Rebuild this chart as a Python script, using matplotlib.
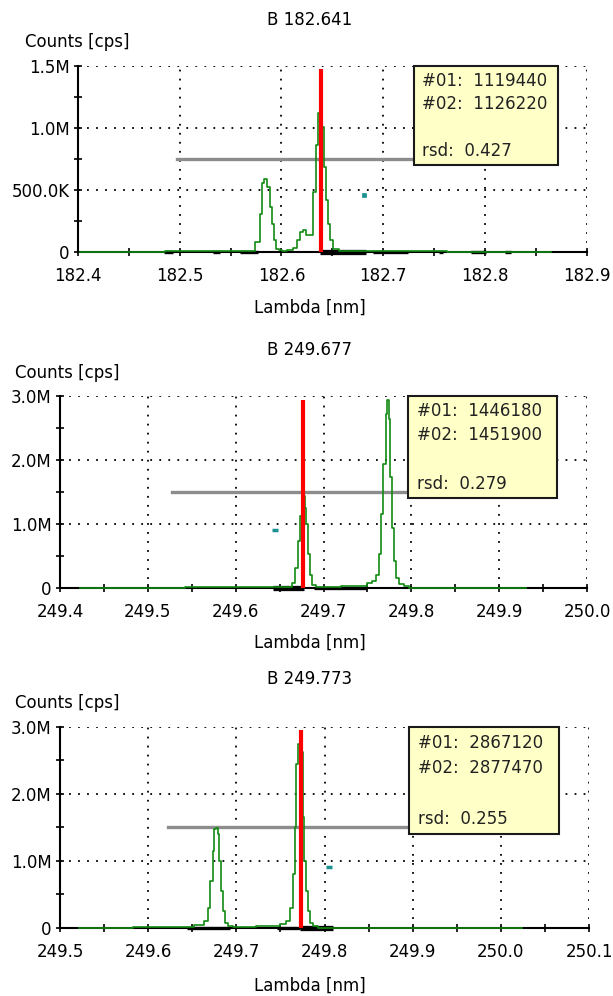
import matplotlib
matplotlib.use("Agg")
import matplotlib.pyplot as plt
from matplotlib.patches import Rectangle
from matplotlib.ticker import MultipleLocator, FixedFormatter, FixedLocator

plt.rcParams["font.family"] = ["DejaVu Sans"]

# --- panel 1 : B 182.641 ---
title1 = "B 182.641"
wl1 = [182.402, 182.570, 182.5771, 182.5804, 182.582, 182.5844, 182.587, 182.5896,
       182.5919, 182.5938, 182.5958, 182.5984, 182.602, 182.609, 182.6132, 182.6164,
       182.6197, 182.622, 182.6262, 182.6295, 182.6328, 182.635, 182.637, 182.6387,
       182.641, 182.6426, 182.6443, 182.6466, 182.6492, 182.6525, 182.660, 182.865]
cnt1 = [0, 5000, 81000, 310000, 553000, 585000, 525000, 363000,
        229000, 94000, 27000, 15000, 12000, 15000, 35000, 94000,
        162000, 175000, 135000, 140000, 485000, 862000, 1118000, 1165000,
        1010000, 687000, 418000, 229000, 94000, 27000, 5000, 0]
peak1 = 182.639
peak_top1 = 1480000
half1 = 750000
half_start1 = 182.497
window1 = (182.638, 182.683)
bg1 = [(182.485, 182.493), (182.533, 182.540), (182.559, 182.577), (182.690, 182.724),
       (182.755, 182.759), (182.786, 182.801), (182.820, 182.826)]
marker1 = (182.681, 458000)
values1 = ["#01:  1119440", "#02:  1126220", "rsd:  0.427"]
xlim1 = (182.4, 182.9)
ylim1 = 1500000
yticks1 = [0, 500000, 1000000, 1500000]
ylabels1 = ["0", "500.0K", "1.0M", "1.5M"]

# --- panel 2 : B 249.677 ---
title2 = "B 249.677"
wl2 = [249.4232, 249.662, 249.6664, 249.6695, 249.6721, 249.674, 249.6763, 249.6778,
       249.6793, 249.6809, 249.6832, 249.6854, 249.6884, 249.695, 249.7454, 249.753,
       249.7575, 249.7617, 249.7643, 249.767, 249.7692, 249.772, 249.7734, 249.775,
       249.7765, 249.7788, 249.7814, 249.784, 249.7879, 249.7947, 249.800, 249.930]
cnt2 = [0, 20000, 79000, 314000, 733000, 1126000, 1414000, 1440000,
        1257000, 995000, 524000, 210000, 50000, 10000, 27000, 79000,
        105000, 210000, 524000, 1153000, 1938000, 2720000, 2930000, 2645000,
        1728000, 942000, 419000, 157000, 63000, 27000, 0, 0]
peak2 = 249.677
peak_top2 = 2940000
half2 = 1500000
half_start2 = 249.527
window2 = (249.642, 249.678)
bg2 = [(249.689, 249.749)]
marker2 = (249.6448, 906000)
values2 = ["#01:  1446180", "#02:  1451900", "rsd:  0.279"]
xlim2 = (249.4, 250.0)
ylim2 = 3000000
yticks2 = [0, 1000000, 2000000, 3000000]
ylabels2 = ["0", "1.0M", "2.0M", "3.0M"]

# --- panel 3 : B 249.773 ---
title3 = "B 249.773"
wl3 = [249.521, 249.6437, 249.6607, 249.6664, 249.6693, 249.672, 249.6739, 249.6758,
       249.6777, 249.6796, 249.6815, 249.6834, 249.6852, 249.6883, 249.6928, 249.700,
       249.7457, 249.7533, 249.759, 249.7628, 249.7654, 249.7673, 249.7691, 249.7711,
       249.7726, 249.7741, 249.776, 249.7779, 249.7798, 249.7824, 249.7855, 249.7892,
       249.795, 250.0235]
cnt3 = [0, 10000, 50000, 100000, 300000, 700000, 1150000, 1475000,
        1490000, 1400000, 1000000, 550000, 250000, 75000, 25000, 10000,
        25000, 60000, 100000, 300000, 800000, 1500000, 2450000, 2750000,
        2940000, 2625000, 1650000, 1000000, 550000, 250000, 75000, 25000,
        0, 0]
peak3 = 249.773
peak_top3 = 2950000
half3 = 1500000
half_start3 = 249.623
window3 = (249.772, 249.810)
bg3 = [(249.644, 249.693), (249.746, 249.772)]
marker3 = (249.805, 910000)
values3 = ["#01:  2867120", "#02:  2877470", "rsd:  0.255"]
xlim3 = (249.5, 250.1)
ylim3 = 3000000
yticks3 = [0, 1000000, 2000000, 3000000]
ylabels3 = ["0", "1.0M", "2.0M", "3.0M"]

FS = 12


def draw_panel(ax, wl, cnt, peak, peak_top, half, half_start, window, bg, marker,
               values, xlim, ylim, yticks, ylabels, marker_style):
    ax.set_xlim(*xlim)
    ax.set_ylim(0, ylim)

    for s in ["top", "right"]:
        ax.spines[s].set_visible(False)
    for s in ["left", "bottom"]:
        ax.spines[s].set_linewidth(1.5)
        ax.spines[s].set_zorder(2)

    ax.xaxis.set_major_locator(MultipleLocator(0.1))
    ax.xaxis.set_minor_locator(MultipleLocator(0.05))
    ax.xaxis.set_major_formatter(plt.FormatStrFormatter("%.1f"))
    ax.yaxis.set_major_locator(FixedLocator(yticks))
    ax.yaxis.set_major_formatter(FixedFormatter(ylabels))
    ax.yaxis.set_minor_locator(MultipleLocator(yticks[1] / 2))
    ax.tick_params(which="both", direction="inout", length=6, width=1.2,
                   labelsize=FS, pad=3)
    ax.tick_params(axis="x", which="major", pad=8)
    ax.grid(True, which="major", color="black", linestyle=(0, (1, 4)), linewidth=1.3)
    ax.set_axisbelow(True)

    # background regions and integration window on the baseline
    for a, b in bg:
        ax.plot([a, b], [0, 0], color="black", linewidth=2.4, solid_capstyle="butt",
                clip_on=False, zorder=3)
    ax.plot(list(window), [0, 0], color="black", linewidth=3.8, solid_capstyle="butt",
            clip_on=False, zorder=3)

    # half-height line
    frac = (half_start - xlim[0]) / (xlim[1] - xlim[0])
    ax.axhline(half, xmin=frac, xmax=0.8, color="#8c8c8c", linewidth=2.4, zorder=3)

    # spectrum
    ax.plot(wl, cnt, drawstyle="steps-mid", color="#128a12", linewidth=1.2,
            clip_on=False, zorder=4)

    # peak position
    ax.plot([peak, peak], [0, peak_top], color="#ff0000", linewidth=3.0,
            solid_capstyle="butt", zorder=5)

    ax.plot([marker[0]], [marker[1]], color="#1a9090", marker=marker_style,
            markersize=5 if marker_style == "_" else 2.5, markeredgewidth=2.5
            if marker_style == "_" else 0.5, zorder=5)

    box = Rectangle((0.66, 0.467), 0.283, 0.533, transform=ax.transAxes,
                    facecolor="#ffffc8", edgecolor="#1a1a1a", linewidth=1.5,
                    zorder=6, clip_on=False)
    ax.add_patch(box)
    for v, yf in zip(values, [0.922, 0.795, 0.542]):
        ax.text(0.677, yf, v, transform=ax.transAxes, fontsize=FS,
                va="center", ha="left", color="#222222", zorder=7)


fig = plt.figure(figsize=(6.13, 9.96), dpi=100)

ax1 = fig.add_axes([0.1272, 0.747, 0.830, 0.1867])
ax2 = fig.add_axes([0.0979, 0.4096, 0.8597, 0.1928])
ax3 = fig.add_axes([0.0979, 0.0683, 0.863, 0.2018])

draw_panel(ax1, wl1, cnt1, peak1, peak_top1, half1, half_start1, window1, bg1, marker1,
           values1, xlim1, ylim1, yticks1, ylabels1, "s")
draw_panel(ax2, wl2, cnt2, peak2, peak_top2, half2, half_start2, window2, bg2, marker2,
           values2, xlim2, ylim2, yticks2, ylabels2, "_")
draw_panel(ax3, wl3, cnt3, peak3, peak_top3, half3, half_start3, window3, bg3, marker3,
           values3, xlim3, ylim3, yticks3, ylabels3, "_")

for title, ty, cx, cy, ly in [(title1, 0.980, 0.0408, 0.9578, 0.6908),
                              (title2, 0.6486, 0.0245, 0.6255, 0.3544),
                              (title3, 0.3183, 0.0245, 0.2942, 0.0100)]:
    fig.text(0.505, ty, title, ha="center", va="center", fontsize=FS)
    fig.text(cx, cy, "Counts [cps]", ha="left", va="center", fontsize=FS)
    fig.text(0.505, ly, "Lambda [nm]", ha="center", va="center", fontsize=FS)

fig.savefig("out.png", dpi=100)
